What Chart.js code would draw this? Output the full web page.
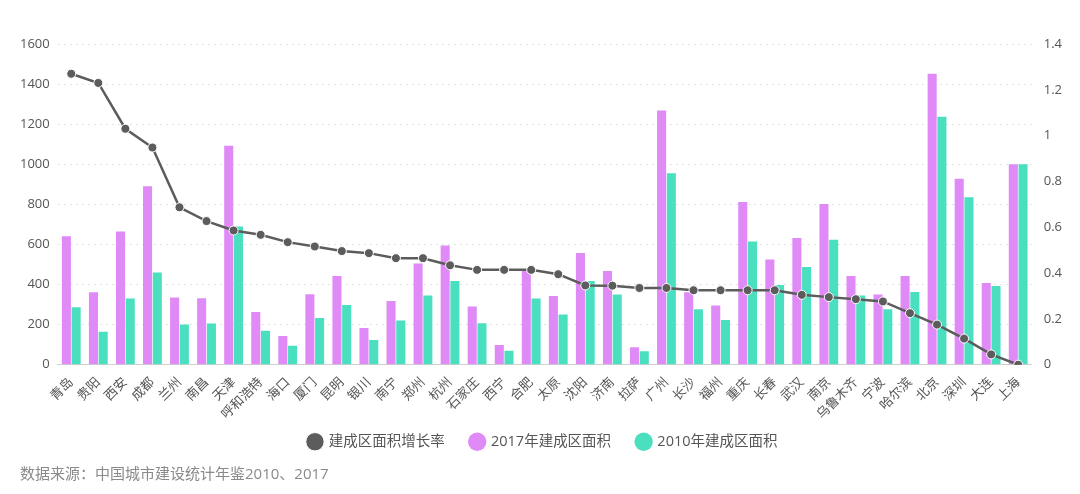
<!DOCTYPE html>
<html>
<head>
<meta charset="utf-8">
<script src="https://cdn.jsdelivr.net/npm/chart.js@4/dist/chart.umd.min.js"></script>
<style>
  body { margin: 0; background: #fff; }
  #wrap { position: relative; width: 1080px; height: 494px; }
  #source { position: absolute; left: 20px; top: 462px; font: 15px "Open Sans", "Noto Sans CJK SC", sans-serif; color: #8a8a8a; }
</style>
</head>
<body>
<div id="wrap">
  <canvas id="myChart" width="1080" height="494"></canvas>
  <div id="source">数据来源：中国城市建设统计年鉴2010、2017</div>
</div>
<script>
// cities, sorted by growth rate
const cities = ['青岛','贵阳','西安','成都','兰州','南昌','天津','呼和浩特','海口','厦门','昆明','银川','南宁','郑州','杭州','石家庄','西宁','合肥','太原','沈阳','济南','拉萨','广州','长沙','福州','重庆','长春','武汉','南京','乌鲁木齐','宁波','哈尔滨','北京','深圳','大连','上海'];
const area2017 = [641,362,665,890,335,332,1092,263,143,352,442,183,318,505,595,290,98,470,343,557,468,87,1268,361,295,812,525,632,802,442,350,442,1452,928,408,1000];
const area2010 = [287,165,330,460,200,205,690,170,95,233,298,123,220,345,417,207,70,330,250,417,350,67,955,277,223,615,398,488,623,345,277,363,1237,835,393,1000];
const growth = [1.27,1.23,1.03,0.948,0.687,0.627,0.586,0.567,0.535,0.516,0.496,0.487,0.465,0.465,0.434,0.414,0.414,0.414,0.395,0.346,0.345,0.335,0.335,0.325,0.325,0.325,0.325,0.305,0.295,0.286,0.276,0.225,0.175,0.114,0.045,0];
const leftTicks = [0,200,400,600,800,1000,1200,1400,1600];

const fontFamily = '"Open Sans", "Noto Sans CJK SC", sans-serif';
const ctx = document.getElementById('myChart').getContext('2d');

const labelOverlap = 16; // rotated labels hang into the legend gap

const chart = new Chart(ctx, {
    type: 'bar',
    data: {
        labels: cities,
        datasets: [{
            type: 'line',
            label: '建成区面积增长率',
            data: growth,
            yAxisID: 'y1',
            borderColor: '#5c5c5c',
            backgroundColor: '#5c5c5c',
            borderWidth: 2.5,
            pointRadius: 4.5,
            pointBorderColor: '#ffffff',
            pointBorderWidth: 1,
            pointBackgroundColor: '#5c5c5c',
            tension: 0
        }, {
            label: '2017年建成区面积',
            data: area2017,
            yAxisID: 'y',
            backgroundColor: '#df8af6',
            categoryPercentage: 0.72,
            barPercentage: 0.93
        }, {
            label: '2010年建成区面积',
            data: area2010,
            yAxisID: 'y',
            backgroundColor: '#4adfbf',
            categoryPercentage: 0.72,
            barPercentage: 0.93
        }]
    },
    plugins: [{
        id: 'unclipLabels',
        afterLayout(chart) { chart.scales.x.bottom += labelOverlap; }
    }],
    options: {
        responsive: false,
        animation: false,
        layout: { padding: { top: 44, left: 12, right: 6, bottom: 35 } },
        plugins: {
            tooltip: { enabled: false },
            legend: {
                position: 'bottom',
                labels: {
                    usePointStyle: true,
                    pointStyle: 'circle',
                    boxWidth: 13,
                    boxHeight: 13,
                    padding: 26,
                    color: '#555555',
                    font: { family: fontFamily, size: 14.5 }
                }
            }
        },
        scales: {
            x: {
                grid: { display: false },
                border: { color: '#cfcfcf' },
                afterFit: axis => { axis.height -= labelOverlap; },
                ticks: {
                    autoSkip: false,
                    minRotation: 45,
                    maxRotation: 45,
                    color: '#555555',
                    padding: 2,
                    font: { family: fontFamily, size: 13 }
                }
            },
            y: {
                position: 'left',
                min: 0,
                max: 1600,
                afterBuildTicks: axis => { axis.ticks = leftTicks.map(v => ({ value: v })); },
                border: { display: false, dash: [2, 4] },
                grid: { color: '#e3e3e3', drawTicks: false },
                ticks: {
                    color: '#555555',
                    padding: 8,
                    font: { family: fontFamily, size: 13 },
                    callback: v => String(v)
                }
            },
            y1: {
                position: 'right',
                min: 0,
                max: 1.4,
                border: { display: false },
                grid: { display: false, drawTicks: false },
                ticks: {
                    stepSize: 0.2,
                    color: '#555555',
                    padding: 12,
                    font: { family: fontFamily, size: 13 },
                    callback: v => String(Math.round(v * 10) / 10)
                }
            }
        }
    }
});
</script>
</body>
</html>
